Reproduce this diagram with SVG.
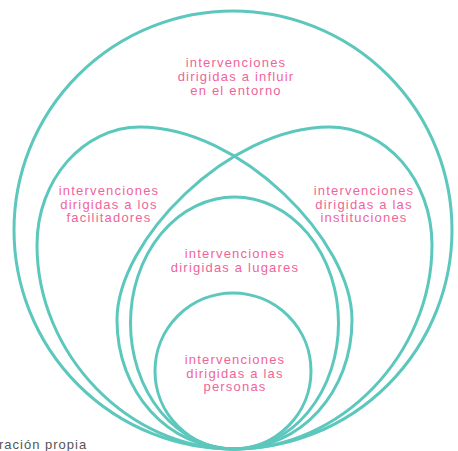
<svg xmlns="http://www.w3.org/2000/svg" width="458" height="451" viewBox="0 0 458 451">
<style>
.ring{fill:none;stroke:#5cc7bc;stroke-width:3}
.lbl{font-family:"Liberation Sans",Arial,sans-serif;font-size:13px;letter-spacing:1.2px;fill:#f0649a;text-anchor:middle}
.src{font-family:"Liberation Sans",Arial,sans-serif;font-size:13px;letter-spacing:1px;fill:#555}
</style>
<defs>
<path id="egg" d="M234,449 C129,449 37,355 37,245 C37,180 83,127 140,127 C240,127 352,240 352,320 C352,392 301,449 234,449 Z"/>
</defs>
<rect width="458" height="451" fill="#fff"/>
<g id="connectors"></g>
<g id="entorno">
<circle class="ring" cx="233" cy="230" r="219"/>
<text class="lbl"><tspan x="236" y="67">intervenciones</tspan><tspan x="236" y="81">dirigidas a influir</tspan><tspan x="236" y="95">en el entorno</tspan></text>
</g>
<g id="facilitadores">
<use href="#egg" class="ring"/>
<text class="lbl"><tspan x="109" y="195">intervenciones</tspan><tspan x="109" y="208.5">dirigidas a los</tspan><tspan x="109" y="222">facilitadores</tspan></text>
</g>
<g id="instituciones">
<use href="#egg" class="ring" transform="translate(469 0) scale(-1 1)"/>
<text class="lbl"><tspan x="364" y="195">intervenciones</tspan><tspan x="364" y="208.5">dirigidas a las</tspan><tspan x="364" y="222">instituciones</tspan></text>
</g>
<g id="lugares">
<ellipse class="ring" cx="234.5" cy="323" rx="104" ry="126"/>
<text class="lbl"><tspan x="235" y="257.5">intervenciones</tspan><tspan x="235" y="272">dirigidas a lugares</tspan></text>
</g>
<g id="personas">
<circle class="ring" cx="233" cy="371" r="78"/>
<text class="lbl"><tspan x="235" y="364">intervenciones</tspan><tspan x="235" y="377.5">dirigidas a las</tspan><tspan x="235" y="391">personas</tspan></text>
</g>
<text class="src" x="-1" y="449">ración propia</text>
</svg>
